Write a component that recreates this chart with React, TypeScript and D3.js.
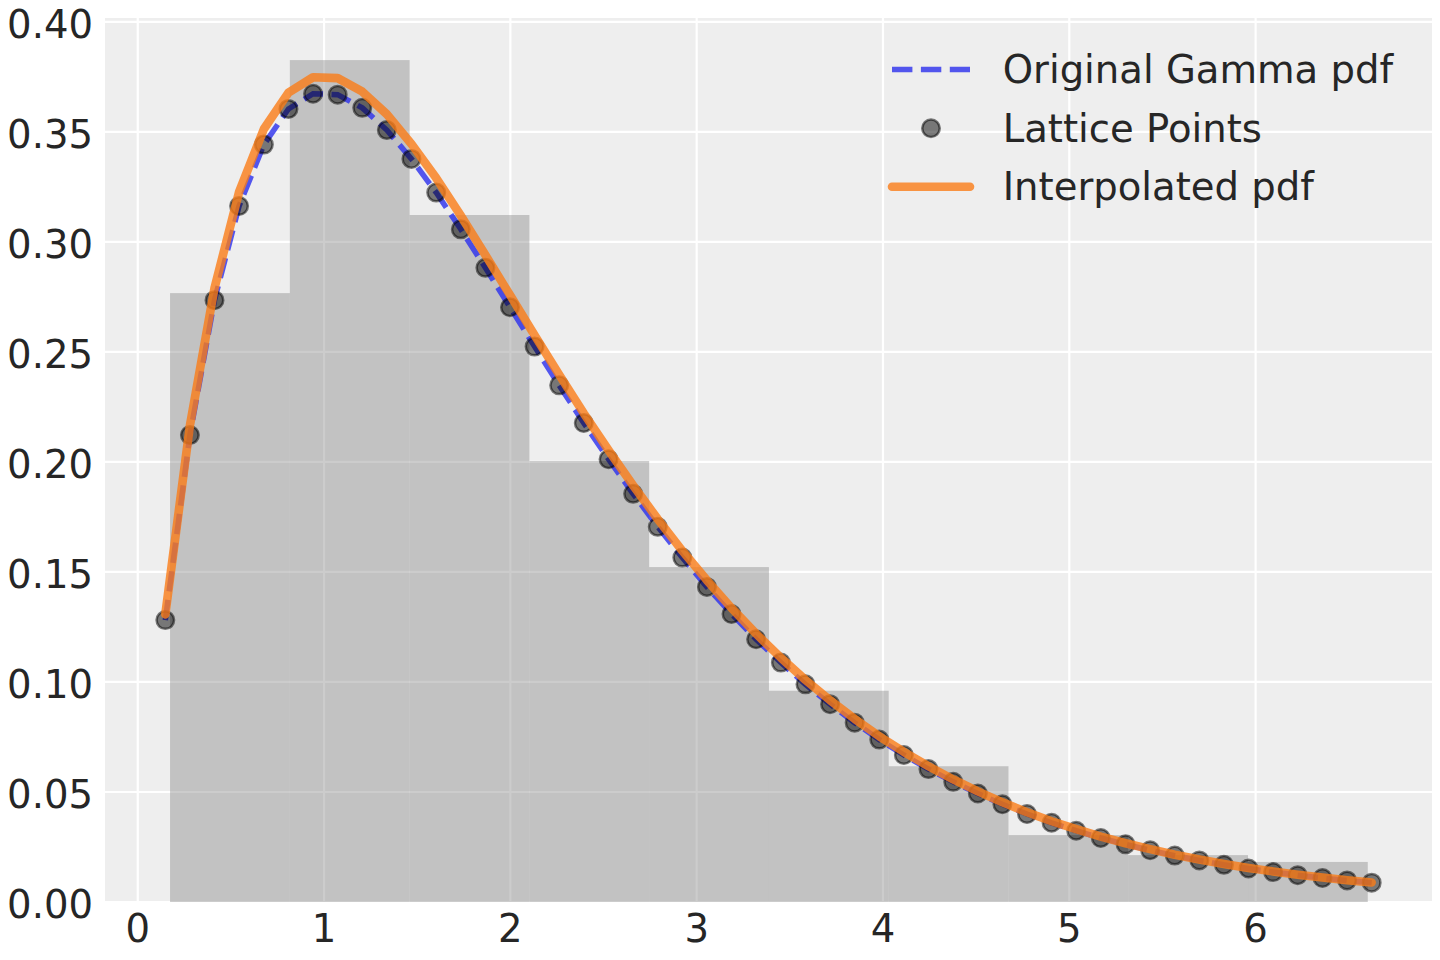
import * as d3 from 'd3';

// lattice grid on which the pdf was sampled
const latticeX = [
  0.148, 0.28, 0.412, 0.544, 0.677, 0.809, 0.941, 1.073, 1.205, 1.337,
  1.469, 1.602, 1.734, 1.866, 1.998, 2.13, 2.262, 2.394, 2.527, 2.659,
  2.791, 2.923, 3.055, 3.187, 3.319, 3.452, 3.584, 3.716, 3.848, 3.98,
  4.112, 4.244, 4.377, 4.509, 4.641, 4.773, 4.905, 5.037, 5.169, 5.302,
  5.434, 5.566, 5.698, 5.83, 5.962, 6.094, 6.226, 6.359, 6.491, 6.623,
];

// original gamma pdf at the lattice points
const gammaPdf = [
  0.1281, 0.2122, 0.2735, 0.3163, 0.3442, 0.3604, 0.3673, 0.3669, 0.3609, 0.3508,
  0.3377, 0.3224, 0.3057, 0.2882, 0.2703, 0.2524, 0.2348, 0.2177, 0.2012, 0.1855,
  0.1705, 0.1565, 0.1432, 0.1309, 0.1194, 0.1088, 0.0989, 0.0899, 0.0815, 0.0738,
  0.0668, 0.0604, 0.0546, 0.0493, 0.0444, 0.04, 0.036, 0.0324, 0.0291, 0.0262,
  0.0235, 0.0211, 0.0189, 0.0169, 0.0152, 0.0136, 0.0122, 0.0109, 0.0098, 0.0088,
];

// interpolated pdf
const interpPdf = [
  0.1307, 0.2165, 0.279, 0.3227, 0.3513, 0.3678, 0.3748, 0.3744, 0.3683, 0.358,
  0.3445, 0.329, 0.3119, 0.294, 0.2758, 0.2576, 0.2396, 0.2221, 0.2053, 0.1893,
  0.174, 0.1596, 0.1462, 0.1336, 0.1219, 0.111, 0.1009, 0.0917, 0.0832, 0.0753,
  0.0682, 0.0617, 0.0557, 0.0503, 0.0453, 0.0408, 0.0367, 0.0331, 0.0297, 0.0267,
  0.024, 0.0215, 0.0193, 0.0173, 0.0155, 0.0139, 0.0124, 0.0111, 0.0099, 0.0089,
];

// histogram of samples (density)
const binEdges = [0.1735, 0.8164, 1.4592, 2.1021, 2.7449, 3.3878, 4.0306, 4.6735, 5.3163, 5.9592, 6.602];
const binDensity = [0.2767, 0.3826, 0.3122, 0.2004, 0.1522, 0.096, 0.0617, 0.0304, 0.0213, 0.0182];

const xTicks = [0, 1, 2, 3, 4, 5, 6];
const yTicks = [0, 0.05, 0.1, 0.15, 0.2, 0.25, 0.3, 0.35, 0.4];

const legendLabels = ['Original Gamma pdf', 'Lattice Points', 'Interpolated pdf'];

const W = 1440;
const H = 960;
const plot = { left: 105, right: 1432, top: 18, bottom: 902 };
const font = "'DejaVu Sans', sans-serif";
const fontSize = 38.6;
const textColor = '#262626';
const blue = '#2a2eec';
const orange = '#fa7c17';

const App = () => {
  const [x0, x1] = d3.extent(latticeX) as [number, number];
  const pad = (x1 - x0) * 0.05;
  const xScale = d3.scaleLinear().domain([x0 - pad, x1 + pad]).range([plot.left, plot.right]);
  const yScale = d3
    .scaleLinear()
    .domain([0, (d3.max(binDensity) as number) * 1.05])
    .range([plot.bottom, plot.top]);

  const pts = latticeX.map((x, i) => ({ x, g: gammaPdf[i], f: interpPdf[i] }));
  const gammaLine = d3
    .line<{ x: number; g: number }>()
    .x((d) => xScale(d.x))
    .y((d) => yScale(d.g));
  const interpLine = d3
    .line<{ x: number; f: number }>()
    .x((d) => xScale(d.x))
    .y((d) => yScale(d.f));

  const fmt = d3.format('.2f');
  const legendX = 892;
  const handleLen = 78;
  const legendRows = [69.5, 128.3, 186.7];

  return (
    <div style={{ position: 'absolute', left: 0, top: 0 }}>
      <svg width={W} height={H} style={{ display: 'block', background: '#ffffff' }}>
        <rect
          x={plot.left}
          y={plot.top}
          width={plot.right - plot.left}
          height={plot.bottom - plot.top}
          fill="#eeeeee"
        />

        {/* grid */}
        {xTicks.map((t) => (
          <line
            key={'gx' + t}
            x1={xScale(t)}
            x2={xScale(t)}
            y1={plot.top}
            y2={plot.bottom}
            stroke="#ffffff"
            strokeWidth={2.2}
          />
        ))}
        {yTicks.map((t) => (
          <line
            key={'gy' + t}
            x1={plot.left}
            x2={plot.right}
            y1={yScale(t)}
            y2={yScale(t)}
            stroke="#ffffff"
            strokeWidth={2.2}
          />
        ))}

        {/* histogram */}
        {binDensity.map((d, i) => (
          <rect
            key={'bar' + i}
            x={xScale(binEdges[i])}
            width={xScale(binEdges[i + 1]) - xScale(binEdges[i])}
            y={yScale(d)}
            height={yScale(0) - yScale(d)}
            fill="#808080"
            fillOpacity={0.4}
          />
        ))}

        {/* original pdf */}
        <path
          d={gammaLine(pts) || ''}
          fill="none"
          stroke={blue}
          strokeOpacity={0.8}
          strokeWidth={5.5}
          strokeDasharray="20.4,8.5"
        />

        {/* lattice points */}
        {pts.map((p, i) => (
          <circle
            key={'pt' + i}
            cx={xScale(p.x)}
            cy={yScale(p.g)}
            r={8.75}
            fill="#000000"
            fillOpacity={0.5}
            stroke="#000000"
            strokeOpacity={0.5}
            strokeWidth={2.5}
          />
        ))}

        {/* interpolated pdf */}
        <path
          d={interpLine(pts) || ''}
          fill="none"
          stroke={orange}
          strokeOpacity={0.8}
          strokeWidth={8.6}
          strokeLinecap="round"
          strokeLinejoin="round"
        />

        {/* tick labels */}
        {xTicks.map((t) => (
          <text
            key={'tx' + t}
            x={xScale(t)}
            y={941.5}
            textAnchor="middle"
            fontFamily={font}
            fontSize={fontSize}
            fill={textColor}
          >
            {t}
          </text>
        ))}
        {yTicks.map((t) => (
          <text
            key={'ty' + t}
            x={plot.left - 12}
            y={yScale(t) + 16.3}
            textAnchor="end"
            fontFamily={font}
            fontSize={fontSize}
            fill={textColor}
          >
            {fmt(t)}
          </text>
        ))}

        {/* legend */}
        <line
          x1={legendX}
          x2={legendX + handleLen}
          y1={legendRows[0]}
          y2={legendRows[0]}
          stroke={blue}
          strokeOpacity={0.8}
          strokeWidth={5.5}
          strokeDasharray="20.4,8.5"
        />
        <circle
          cx={legendX + handleLen / 2}
          cy={legendRows[1]}
          r={8.75}
          fill="#000000"
          fillOpacity={0.5}
          stroke="#000000"
          strokeOpacity={0.5}
          strokeWidth={2.5}
        />
        <line
          x1={legendX}
          x2={legendX + handleLen}
          y1={legendRows[2]}
          y2={legendRows[2]}
          stroke={orange}
          strokeOpacity={0.8}
          strokeWidth={8.6}
          strokeLinecap="round"
        />
        {legendLabels.map((label, i) => (
          <text
            key={label}
            x={1002.7}
            y={legendRows[i] + 13.4}
            fontFamily={font}
            fontSize={fontSize}
            fill={textColor}
          >
            {label}
          </text>
        ))}
      </svg>
    </div>
  );
};

export default App;
